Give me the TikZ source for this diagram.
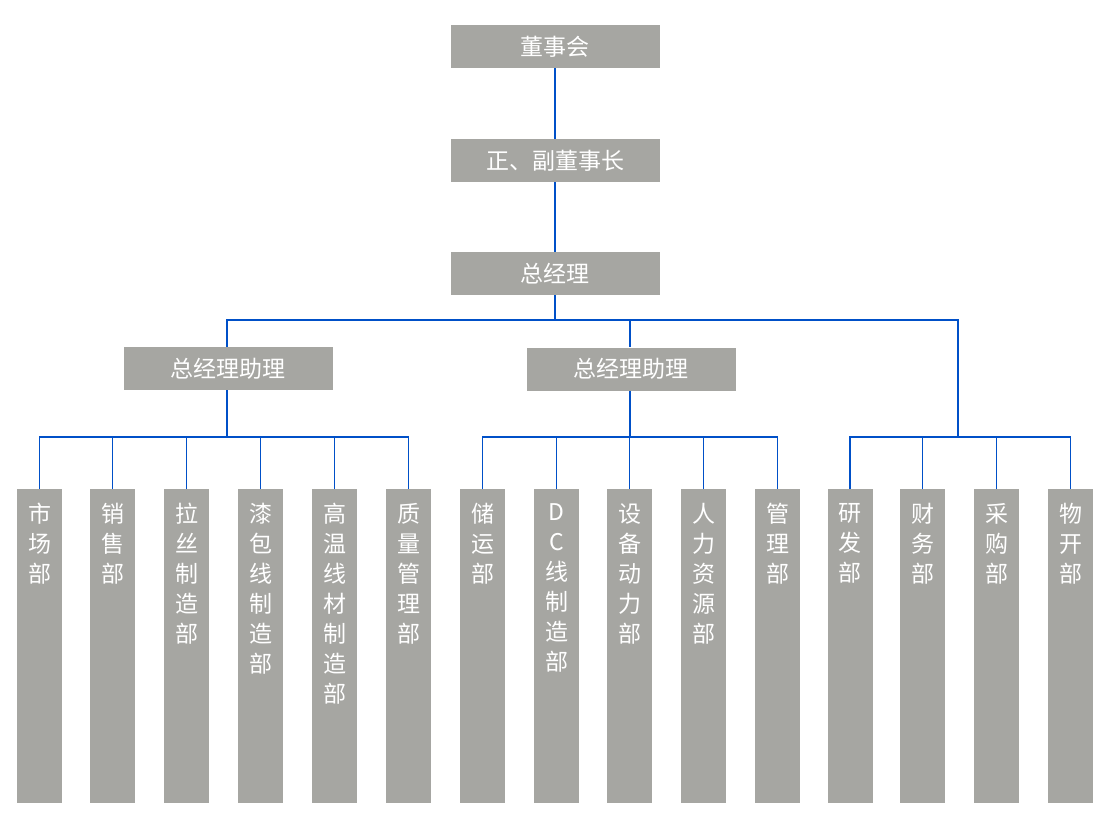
\documentclass[tikz,border=0pt]{standalone}
\usepackage{fontspec}
\newfontfamily\cjk{Noto Sans CJK SC}
\definecolor{boxgray}{RGB}{166,166,162}
\definecolor{linkblue}{RGB}{0,80,200}
\newcommand{\deptcol}[1]{\parbox[t][314pt][t]{45pt}{\centering\vspace*{14pt}#1}}
\begin{document}
\begin{tikzpicture}[x=1pt,y=-1pt,
  topbox/.style={fill=boxgray,text=white,inner sep=0pt,minimum width=209pt,minimum height=43pt,font=\cjk\fontsize{23}{26}\selectfont},
  deptbox/.style={fill=boxgray,text=white,inner sep=0pt,anchor=north,font=\cjk\fontsize{23}{30}\selectfont},
  conn/.style={draw=linkblue,line width=1.1pt}]
\useasboundingbox (0,0) rectangle (1110,836);
\node[topbox] (b1) at (555,46.5) {董事会};
\node[topbox] (b2) at (555,160.5) {正、副董事长};
\node[topbox] (b3) at (555,273.5) {总经理};
\node[topbox] (pa1) at (228,368.5) {总经理助理};
\node[topbox] (pa2) at (631,369) {总经理助理};
\node[deptbox] (d1) at (39.5,489) {\deptcol{市\\场\\部}};
\node[deptbox] (d2) at (112.5,489) {\deptcol{销\\售\\部}};
\node[deptbox] (d3) at (186.5,489) {\deptcol{拉\\丝\\制\\造\\部}};
\node[deptbox] (d4) at (260.5,489) {\deptcol{漆\\包\\线\\制\\造\\部}};
\node[deptbox] (d5) at (334.5,489) {\deptcol{高\\温\\线\\材\\制\\造\\部}};
\node[deptbox] (d6) at (408.5,489) {\deptcol{质\\量\\管\\理\\部}};
\node[deptbox] (d7) at (482.5,489) {\deptcol{储\\运\\部}};
\node[deptbox] (d8) at (556.5,489) {\deptcol{D\\C\\线\\制\\造\\部}};
\node[deptbox] (d9) at (629.5,489) {\deptcol{设\\备\\动\\力\\部}};
\node[deptbox] (d10) at (703.5,489) {\deptcol{人\\力\\资\\源\\部}};
\node[deptbox] (d11) at (777.5,489) {\deptcol{管\\理\\部}};
\node[deptbox] (d12) at (850,489) {\deptcol{研\\发\\部}};
\node[deptbox] (d13) at (922.5,489) {\deptcol{财\\务\\部}};
\node[deptbox] (d14) at (996.5,489) {\deptcol{采\\购\\部}};
\node[deptbox] (d15) at (1070.5,489) {\deptcol{物\\开\\部}};
\coordinate (j) at (555,320);
\coordinate (c3) at (958,437);
\coordinate (k1) at (227,437);
\coordinate (k2) at (630,437);
\draw[conn] (b1.south) -- (b2.north);
\draw[conn] (b2.south) -- (b3.north);
\draw[conn] (b3.south) -- (j);
\draw[conn] (pa1.north -| k1) |- (j) -| (c3);
\draw[conn] (j -| k2) -- (pa2.north -| k2);
\draw[conn] (pa1.south -| k1) -- (k1);
\draw[conn] (pa2.south -| k2) -- (k2);
\draw[conn] (d1.north) |- (k1) -| (d6.north);
\foreach \n in {d2,d3,d4,d5} \draw[conn] (\n.north) -- (\n.north |- k1);
\draw[conn] (d7.north) |- (k2) -| (d11.north);
\foreach \n in {d8,d9,d10} \draw[conn] (\n.north) -- (\n.north |- k2);
\draw[conn] (d12.north) |- (c3) -| (d15.north);
\foreach \n in {d13,d14} \draw[conn] (\n.north) -- (\n.north |- c3);
\end{tikzpicture}
\end{document}
